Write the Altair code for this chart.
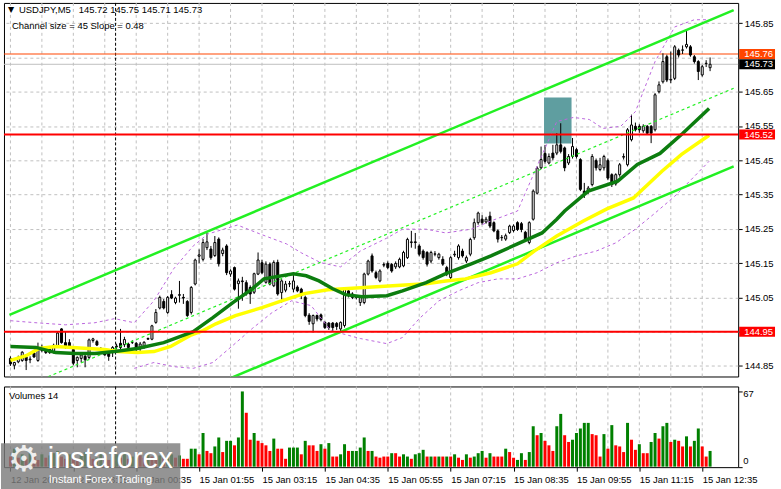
import altair as alt
import pandas as pd

FONT = "Liberation Sans"

# ---------------- data (USDJPY M5) ----------------
bar_index = list(range(-1, 178))  # bar -1 = 12 Jan 21:45 ... bar 177 = 15 Jan 12:45

opens = [
    144.872, 144.852, 144.862, 144.866, 144.876, 144.868, 144.888, 144.866, 144.895, 144.898,
    144.898, 144.890, 144.907, 144.958, 144.918, 144.918, 144.898, 144.866, 144.872, 144.878,
    144.875, 144.924, 144.921, 144.900, 144.890, 144.894, 144.892, 144.906, 144.916, 144.912,
    144.914, 144.919, 144.916, 144.900, 144.905, 144.928, 144.928, 144.977, 145.019, 145.038,
    145.006, 145.058, 145.035, 145.056, 145.050, 145.038, 145.006, 145.089, 145.170, 145.161,
    145.195, 145.191, 145.172, 145.220, 145.178, 145.200, 145.118, 145.137, 145.090, 145.098,
    145.093, 145.079, 145.065, 145.118, 145.151, 145.094, 145.147, 145.084, 145.152, 145.064,
    145.071, 145.089, 145.074, 145.080, 145.074, 145.050, 144.998, 144.973, 144.997, 144.999,
    144.977, 144.975, 144.975, 144.974, 144.958, 144.968, 145.069, 145.060, 145.050, 145.035,
    145.035, 145.118, 145.171, 145.122, 145.098, 145.144, 145.149, 145.146, 145.139, 145.139,
    145.142, 145.166, 145.210, 145.212, 145.200, 145.185, 145.181, 145.156, 145.176, 145.166,
    145.161, 145.137, 145.108, 145.174, 145.166, 145.185, 145.156, 145.176, 145.224, 145.268,
    145.278, 145.270, 145.287, 145.268, 145.244, 145.224, 145.220, 145.239, 145.245, 145.268,
    145.265, 145.240, 145.210, 145.278, 145.354, 145.428, 145.470, 145.442, 145.471, 145.471,
    145.495, 145.486, 145.442, 145.461, 145.481, 145.452, 145.360, 145.360, 145.379, 145.449,
    145.423, 145.428, 145.449, 145.408, 145.381, 145.408, 145.459, 145.437, 145.510, 145.549,
    145.549, 145.536, 145.549, 145.549, 145.539, 145.650, 145.679, 145.752, 145.684, 145.689,
    145.771, 145.771, 145.781, 145.781, 145.752, 145.738, 145.699, 145.732, 145.720,
]
highs = [
    144.878, 144.862, 144.880, 144.893, 144.880, 144.878, 144.892, 144.918, 144.912, 144.902,
    144.902, 144.915, 144.950, 144.960, 144.950, 144.928, 144.898, 144.878, 144.886, 144.882,
    144.930, 144.932, 144.926, 144.905, 144.893, 144.898, 144.908, 144.915, 144.958, 144.935,
    144.918, 144.925, 144.920, 144.920, 144.922, 144.933, 144.970, 145.016, 145.055, 145.045,
    145.054, 145.071, 145.052, 145.098, 145.060, 145.042, 145.083, 145.163, 145.190, 145.220,
    145.239, 145.200, 145.229, 145.225, 145.195, 145.205, 145.132, 145.140, 145.105, 145.110,
    145.100, 145.085, 145.122, 145.181, 145.160, 145.155, 145.152, 145.158, 145.160, 145.103,
    145.098, 145.098, 145.122, 145.085, 145.078, 145.055, 145.004, 145.000, 145.000, 145.003,
    144.980, 144.978, 144.978, 144.978, 144.980, 145.078, 145.075, 145.065, 145.056, 145.055,
    145.122, 145.160, 145.178, 145.128, 145.132, 145.152, 145.155, 145.150, 145.155, 145.166,
    145.186, 145.224, 145.244, 145.238, 145.205, 145.190, 145.185, 145.186, 145.185, 145.180,
    145.170, 145.142, 145.170, 145.186, 145.205, 145.192, 145.172, 145.224, 145.280, 145.300,
    145.290, 145.285, 145.300, 145.272, 145.248, 145.232, 145.236, 145.262, 145.263, 145.272,
    145.270, 145.244, 145.272, 145.365, 145.432, 145.490, 145.495, 145.470, 145.495, 145.529,
    145.558, 145.490, 145.468, 145.515, 145.486, 145.456, 145.384, 145.375, 145.468, 145.455,
    145.457, 145.466, 145.455, 145.412, 145.412, 145.442, 145.470, 145.544, 145.583, 145.560,
    145.555, 145.555, 145.553, 145.553, 145.646, 145.680, 145.762, 145.758, 145.767, 145.786,
    145.776, 145.785, 145.830, 145.786, 145.757, 145.742, 145.728, 145.742, 145.750,
]
lows = [
    144.850, 144.840, 144.858, 144.862, 144.838, 144.858, 144.874, 144.862, 144.890, 144.885,
    144.885, 144.886, 144.903, 144.915, 144.900, 144.905, 144.852, 144.846, 144.860, 144.846,
    144.870, 144.918, 144.908, 144.893, 144.880, 144.865, 144.876, 144.898, 144.890, 144.905,
    144.900, 144.914, 144.890, 144.888, 144.900, 144.926, 144.925, 144.973, 145.015, 145.015,
    145.002, 145.045, 145.030, 145.035, 145.031, 144.993, 145.000, 145.085, 145.150, 145.155,
    145.188, 145.160, 145.168, 145.140, 145.170, 145.115, 145.110, 145.070, 145.017, 145.040,
    145.055, 145.031, 145.060, 145.115, 145.118, 145.090, 145.085, 145.080, 145.055, 145.035,
    145.065, 145.080, 145.065, 145.065, 145.045, 144.992, 144.970, 144.948, 144.980, 144.980,
    144.958, 144.955, 144.952, 144.955, 144.948, 144.962, 145.050, 145.045, 145.044, 145.025,
    145.030, 145.114, 145.122, 145.103, 145.094, 145.138, 145.132, 145.122, 145.133, 145.135,
    145.138, 145.162, 145.195, 145.192, 145.170, 145.160, 145.140, 145.150, 145.170, 145.160,
    145.142, 145.112, 145.103, 145.168, 145.160, 145.166, 145.150, 145.170, 145.218, 145.262,
    145.262, 145.265, 145.252, 145.240, 145.210, 145.215, 145.215, 145.235, 145.240, 145.244,
    145.240, 145.214, 145.205, 145.274, 145.350, 145.424, 145.440, 145.438, 145.450, 145.465,
    145.470, 145.418, 145.436, 145.455, 145.455, 145.360, 145.340, 145.352, 145.374, 145.420,
    145.418, 145.420, 145.392, 145.372, 145.376, 145.402, 145.452, 145.432, 145.505, 145.534,
    145.530, 145.530, 145.524, 145.500, 145.534, 145.645, 145.674, 145.678, 145.675, 145.684,
    145.750, 145.760, 145.776, 145.752, 145.732, 145.684, 145.694, 145.722, 145.710,
]
closes = [
    144.856, 144.860, 144.875, 144.890, 144.866, 144.870, 144.876, 144.904, 144.905, 144.889,
    144.889, 144.910, 144.946, 144.918, 144.905, 144.908, 144.858, 144.875, 144.882, 144.868,
    144.926, 144.929, 144.911, 144.900, 144.882, 144.878, 144.904, 144.908, 144.904, 144.927,
    144.904, 144.919, 144.900, 144.914, 144.919, 144.930, 144.967, 145.006, 145.050, 145.019,
    145.050, 145.048, 145.048, 145.058, 145.048, 144.997, 145.079, 145.159, 145.174, 145.210,
    145.212, 145.166, 145.210, 145.148, 145.188, 145.122, 145.127, 145.074, 145.098, 145.096,
    145.060, 145.060, 145.119, 145.159, 145.122, 145.147, 145.089, 145.152, 145.060, 145.098,
    145.089, 145.090, 145.098, 145.069, 145.055, 144.997, 144.980, 144.997, 144.987, 144.985,
    144.962, 144.962, 144.962, 144.965, 144.977, 145.074, 145.055, 145.050, 145.050, 145.050,
    145.118, 145.156, 145.127, 145.108, 145.127, 145.146, 145.137, 145.127, 145.149, 145.161,
    145.181, 145.219, 145.212, 145.210, 145.176, 145.166, 145.147, 145.181, 145.177, 145.176,
    145.147, 145.118, 145.166, 145.176, 145.200, 145.171, 145.166, 145.219, 145.268, 145.296,
    145.268, 145.278, 145.258, 145.244, 145.220, 145.225, 145.230, 145.258, 145.258, 145.248,
    145.248, 145.220, 145.268, 145.360, 145.427, 145.452, 145.447, 145.461, 145.457, 145.495,
    145.476, 145.428, 145.461, 145.490, 145.461, 145.365, 145.350, 145.369, 145.461, 145.428,
    145.437, 145.461, 145.398, 145.379, 145.408, 145.437, 145.461, 145.539, 145.553, 145.539,
    145.539, 145.549, 145.529, 145.529, 145.641, 145.670, 145.738, 145.684, 145.686, 145.781,
    145.757, 145.772, 145.788, 145.757, 145.738, 145.709, 145.723, 145.733, 145.730,
]
volumes = [
    9, 16, 8, 11, 7, 12, 9, 6, 11, 8,
    10, 12, 14, 9, 7, 11, 8, 6, 10, 13,
    9, 7, 8, 12, 10, 6, 9, 11, 8, 13,
    7, 9, 12, 10, 8, 11, 9, 7, 10, 8,
    9, 11, 8, 10, 7, 7, 16, 16, 11, 30,
    14, 12, 18, 26, 13, 23, 23, 19, 26, 67,
    48, 24, 30, 23, 21, 19, 14, 25, 16, 16,
    7, 17, 17, 17, 11, 23, 19, 19, 14, 20,
    16, 21, 9, 9, 11, 20, 14, 14, 14, 17,
    26, 14, 14, 9, 8, 9, 9, 12, 12, 9,
    11, 9, 7, 11, 12, 15, 9, 9, 9, 9,
    9, 9, 9, 11, 8, 6, 11, 8, 9, 12,
    14, 8, 12, 9, 9, 9, 16, 13, 8, 6,
    12, 6, 13, 36, 28, 30, 23, 19, 14, 36,
    47, 28, 22, 24, 30, 34, 39, 39, 29, 28,
    9, 29, 16, 37, 19, 18, 13, 39, 24, 15,
    20, 12, 12, 22, 30, 25, 36, 39, 22, 24,
    23, 18, 27, 18, 23, 34, 18, 9, 14,
]
volume_colors = (
    "r g r g r g r r g r "
    "g g g r r g r r g g "
    "r r g g r r g g r g "
    "r g g r r g r r g r "
    "g g r g r r g g r g "
    "r r g g r g g r g g "
    "r r g r r r r g r r "
    "r g g g r g r r r g "
    "r g r r g g r g g g "
    "g r g r r r r g r r "
    "g g r g g g r g r g "
    "r g r g r r g r g g "
    "g r g r r r g r r g "
    "g r g g r g r r r g "
    "g r r g g g g g r r "
    "r g r g r r r g r r "
    "g r r g g r g g r g "
    "r r g r g g r r g"
).split()

price_ticks = [144.85, 144.95, 145.05, 145.15, 145.25, 145.35, 145.45, 145.55, 145.65, 145.75, 145.85]
hidden_price_label = "145.75"   # covered by the 145.76 / 145.73 price tags in the original
time_tick_bars = [-1, 15, 31, 47, 63, 79, 95, 111, 127, 143, 159, 175]
time_tick_labels = ["12 Jan 2024", "12 Jan 23:05", "15 Jan 00:35", "15 Jan 01:55", "15 Jan 03:15",
                    "15 Jan 04:35", "15 Jan 05:55", "15 Jan 07:15", "15 Jan 08:35", "15 Jan 09:55",
                    "15 Jan 11:15", "15 Jan 12:35"]
grid_bars = [-1, 7, 15, 23, 31, 39, 47, 55, 63, 71, 79, 87, 95, 103, 111, 119, 127, 135, 143, 151, 159, 167, 175]
day_separator_bar = [25.75]

ma_green_bars = [-1, 5.5, 10.5, 15.5, 20.5, 25.5, 31.25, 38, 45.5, 50.5, 55.5, 60.5, 63.5, 71, 74.25, 77.5,
                 81, 84.25, 88.5, 94.75, 98.75, 104.75, 109.75, 116.25, 121.25, 128, 134.25, 138, 140,
                 146, 153.5, 158.5, 164.25, 170, 176.75]
ma_green_vals = [144.907, 144.904, 144.889, 144.886, 144.886, 144.892, 144.901, 144.918, 144.950, 144.991,
                 145.034, 145.075, 145.104, 145.119, 145.113, 145.098, 145.075, 145.058, 145.052, 145.055,
                 145.069, 145.093, 145.119, 145.148, 145.171, 145.206, 145.238, 145.278, 145.302, 145.360,
                 145.389, 145.438, 145.470, 145.528, 145.601]
ma_yellow_bars = [-1, 3, 6.25, 10.5, 14.75, 18.75, 23, 26.25, 31.25, 35.5, 39.75, 44.75, 48, 51.25, 56.25,
                  63, 68, 73.75, 79.75, 88, 96.25, 104.75, 109.75, 114.75, 121.25, 128, 132.25, 138,
                  144.75, 150.75, 157.5, 164.75, 169.75, 176.75]
ma_yellow_vals = [144.866, 144.880, 144.901, 144.907, 144.904, 144.901, 144.898, 144.892, 144.889, 144.892,
                  144.907, 144.939, 144.953, 144.973, 144.997, 145.020, 145.040, 145.061, 145.072, 145.078,
                  145.084, 145.090, 145.098, 145.104, 145.122, 145.148, 145.185, 145.229, 145.273, 145.308,
                  145.340, 145.418, 145.467, 145.523]
band_upper_bars = [-1, 5.5, 13, 20.5, 25.5, 30.5, 35.5, 40.5, 45.5, 49.25, 56.75, 62.5, 69.25, 73, 78, 83,
                   88, 94.75, 98.75, 104.75, 109.75, 116.25, 121.25, 128, 133, 138, 142.25, 146.25, 149.75,
                   154.25, 158, 163, 168, 173, 176.75]
band_upper_vals = [144.982, 144.976, 144.970, 144.976, 144.988, 144.976, 145.040, 145.133, 145.200, 145.235,
                   145.261, 145.235, 145.206, 145.180, 145.151, 145.139, 145.185, 145.223, 145.249, 145.249,
                   145.238, 145.249, 145.273, 145.302, 145.433, 145.563, 145.575, 145.569, 145.543, 145.549,
                   145.592, 145.738, 145.839, 145.860, 145.860]
band_lower_bars = [30.5, 35.5, 40.5, 45.5, 50.5, 55.5, 60.5, 65.5, 70.5, 75.5, 80.5, 88, 94.75, 98.75, 103,
                   108, 113, 118, 123, 128, 133, 138, 143, 148, 153, 158, 163, 168, 173, 176.75]
band_lower_vals = [144.843, 144.860, 144.848, 144.843, 144.860, 144.909, 144.959, 145.005, 145.040, 145.026,
                   144.953, 144.930, 144.915, 144.933, 144.988, 145.040, 145.069, 145.093, 145.104, 145.104,
                   145.122, 145.151, 145.171, 145.185, 145.209, 145.249, 145.296, 145.345, 145.403, 145.447]

channel_bars = [-1.25, 183]
channel_upper = [144.999, 145.888]
channel_mid = [144.771, 145.660]
channel_lower = [144.543, 145.432]

red_levels = [145.525, 144.95]
thin_levels = [145.76, 145.73]
thin_level_colors = ["#ff4500", "#c0c0c0"]
tag_prices = [145.76, 145.73, 145.525, 144.95]
tag_texts = ["145.76", "145.73", "145.52", "144.95"]
tag_colors = ["#ff4500", "#000000", "#ff0000", "#ff0000"]
zone_bars = [134.75, 141.75]
zone_prices = [145.499, 145.633]

# ---------------- styling ----------------
GRID = "#c0c0c0"
LIME = "#22f022"
DGREEN = "#0c7d0f"
YELLOW = "#ffff00"
PURPLE = "#bb66dd"
TEAL = "#5f9ea0"

X_SCALE = alt.Scale(domain=[-1.375, 182.875], nice=False, zero=False)
P_SCALE = alt.Scale(domain=[144.8192, 145.9090], nice=False, zero=False)
V_SCALE = alt.Scale(domain=[-0.44, 71.44], nice=False, zero=False)

price_axis = alt.Axis(orient="right", values=price_ticks, format=".2f", grid=True, gridDash=[3, 3],
                      gridColor=GRID, tickSize=4, labelPadding=2, domain=False, title=None,
                      labelOverlap=False,
                      labelExpr=f"datum.label == '{hidden_price_label}' ? '' : datum.label")

labels_js = "[" + ",".join("'" + t + "'" for t in time_tick_labels) + "]"
vals_js = "[" + ",".join(str(v) for v in time_tick_bars) + "]"
time_axis = alt.Axis(values=time_tick_bars, labelExpr=f"{labels_js}[indexof({vals_js}, datum.value)]",
                     labelAlign="left", labelBaseline="top", labelPadding=3, tickSize=4, domain=False,
                     grid=False, title=None, labelFlush=False, labelOverlap=False, labelBound=False)
vol_axis = alt.Axis(orient="right", values=[0, 67], labels=False, tickSize=4, domain=False, grid=False,
                    title=None)


def X(field="i"):
    return alt.X(f"{field}:Q", scale=X_SCALE, axis=None)


def XV(field="i"):
    return alt.X(f"{field}:Q", scale=X_SCALE, axis=time_axis)


def P(field="p"):
    return alt.Y(f"{field}:Q", scale=P_SCALE, axis=price_axis)


candles = pd.DataFrame({"i": bar_index, "o": opens, "h": highs, "l": lows, "c": closes,
                        "v": volumes, "vc": volume_colors})
candles["dir"] = ["up" if c >= o else "down" for o, c in zip(opens, closes)]

one = pd.DataFrame({"a": [0]})

# ---------------- main panel ----------------
anchor = alt.Chart(one).mark_rect(opacity=0).encode(
    x=alt.value(-3), x2=alt.value(778), y=alt.value(-1), y2=alt.value(488))

grid_v = alt.Chart(pd.DataFrame({"i": grid_bars})).mark_rule(
    color=GRID, strokeDash=[3, 3], strokeWidth=1).encode(x=X())

sep = alt.Chart(pd.DataFrame({"i": day_separator_bar})).mark_rule(
    color="black", strokeDash=[3, 2], strokeWidth=1).encode(x=X())

zone = alt.Chart(pd.DataFrame({"i1": [zone_bars[0]], "i2": [zone_bars[1]],
                               "p1": [zone_prices[0]], "p2": [zone_prices[1]]})).mark_rect(
    color=TEAL).encode(x=X("i1"), x2="i2:Q", y=P("p1"), y2="p2:Q")

thin = alt.Chart(pd.DataFrame({"p": thin_levels, "col": thin_level_colors})).mark_rule(
    strokeWidth=1).encode(y=P(), color=alt.Color("col:N", scale=None))

bands_df = pd.concat([
    pd.DataFrame({"band": "upper", "i": band_upper_bars, "p": band_upper_vals}),
    pd.DataFrame({"band": "lower", "i": band_lower_bars, "p": band_lower_vals}),
])
bands = alt.Chart(bands_df).mark_line(color=PURPLE, strokeDash=[3, 3], strokeWidth=1, clip=True).encode(
    x=X(), y=P(), detail="band:N", order="i:Q")

chan_df = pd.concat([
    pd.DataFrame({"line": "upper", "i": channel_bars, "p": channel_upper}),
    pd.DataFrame({"line": "lower", "i": channel_bars, "p": channel_lower}),
])
chan = alt.Chart(chan_df).mark_line(color=LIME, strokeWidth=2.5, clip=True).encode(
    x=X(), y=P(), detail="line:N", order="i:Q")
chan_mid = alt.Chart(pd.DataFrame({"i": channel_bars, "p": channel_mid})).mark_line(
    color=LIME, strokeWidth=1.2, strokeDash=[3, 3], clip=True).encode(x=X(), y=P(), order="i:Q")

ma_y = alt.Chart(pd.DataFrame({"i": ma_yellow_bars, "p": ma_yellow_vals})).mark_line(
    color=YELLOW, strokeWidth=3.5, clip=True).encode(x=X(), y=P(), order="i:Q")
ma_g = alt.Chart(pd.DataFrame({"i": ma_green_bars, "p": ma_green_vals})).mark_line(
    color=DGREEN, strokeWidth=3.5, clip=True).encode(x=X(), y=P(), order="i:Q")

wicks = alt.Chart(candles).mark_rule(color="black", strokeWidth=1).encode(
    x=X(), y=P("l"), y2="h:Q")
bodies = alt.Chart(candles).mark_bar(size=2, stroke="black", strokeWidth=1).encode(
    x=X(), y=P("o"), y2="c:Q",
    fill=alt.Fill("dir:N", scale=alt.Scale(domain=["up", "down"], range=["white", "black"]), legend=None))

red = alt.Chart(pd.DataFrame({"p": red_levels})).mark_rule(color="#ff0000", strokeWidth=2).encode(y=P())

tags_df = pd.DataFrame({"p": tag_prices, "t": tag_texts, "bg": tag_colors})
tag_bg = alt.Chart(tags_df).mark_rule(strokeWidth=10).encode(
    y=P(), x=alt.value(738), x2=alt.value(774), color=alt.Color("bg:N", scale=None))
tag_txt = alt.Chart(tags_df).mark_text(align="left", baseline="middle", font=FONT, fontSize=9.5,
                                       color="white").encode(y=P(), x=alt.value(743), text="t:N")

hdr_tri = alt.Chart(one).mark_text(text="▼", font="DejaVu Sans", fontSize=8, align="left",
                                   baseline="middle", color="black").encode(x=alt.value(4), y=alt.value(7.5))
hdr1 = alt.Chart(one).mark_text(text="USDJPY,M5\u00a0\u00a0\u00a0145.72 145.75 145.71 145.73", font=FONT,
                                fontSize=9.5, align="left", baseline="middle", color="black").encode(
    x=alt.value(15), y=alt.value(7.5))
hdr2 = alt.Chart(one).mark_text(text="Channel size = 45 Slope = 0.48", font=FONT, fontSize=9.5,
                                align="left", baseline="middle", color="black").encode(
    x=alt.value(8), y=alt.value(23))

main = alt.layer(anchor, grid_v, sep, zone, thin, wicks, bodies, bands, chan, chan_mid, ma_y, ma_g, red,
                 tag_bg, tag_txt, hdr_tri, hdr1, hdr2).properties(width=737, height=375)

# ---------------- volume panel ----------------
v_grid = alt.Chart(pd.DataFrame({"i": grid_bars})).mark_rule(
    color=GRID, strokeDash=[3, 3], strokeWidth=1).encode(x=XV())
v_sep = alt.Chart(pd.DataFrame({"i": day_separator_bar})).mark_rule(
    color="black", strokeDash=[3, 2], strokeWidth=1).encode(x=XV())
v_bars = alt.Chart(candles).mark_bar(size=3).encode(
    x=XV(),
    y=alt.Y("v:Q", scale=V_SCALE, axis=vol_axis), y2=alt.datum(0),
    color=alt.Color("vc:N", scale=alt.Scale(domain=["g", "r"], range=["#008000", "#ff0000"]), legend=None))
v_title = alt.Chart(one).mark_text(text="Volumes 14", font=FONT, fontSize=9.5, align="left",
                                   baseline="middle", color="black").encode(x=alt.value(5), y=alt.value(10))
v_max = alt.Chart(one).mark_text(text="67", font=FONT, fontSize=9.5, align="left", baseline="middle",
                                 color="black").encode(x=alt.value(742), y=alt.value(8))
v_zero = alt.Chart(one).mark_text(text="0", font=FONT, fontSize=9.5, align="left", baseline="middle",
                                  color="black").encode(x=alt.value(742), y=alt.value(75))

wm_box = alt.Chart(one).mark_rect(color="#7c7c7c", opacity=0.82).encode(
    x=alt.value(-3), x2=alt.value(177), y=alt.value(57), y2=alt.value(103))
wm_gear = alt.Chart(one).mark_text(text="⚙", font="DejaVu Sans", fontSize=36, color="white", opacity=0.85,
                                   align="center", baseline="middle").encode(x=alt.value(20), y=alt.value(74))
wm_name = alt.Chart(one).mark_text(text="instaforex", font=FONT, fontSize=29, color="white", align="left",
                                   baseline="alphabetic").encode(x=alt.value(44), y=alt.value(82))
wm_sub = alt.Chart(one).mark_text(text="Instant Forex Trading", font=FONT, fontSize=11, color="white",
                                  align="left", baseline="alphabetic").encode(x=alt.value(45), y=alt.value(97))

vol = alt.layer(v_grid, v_sep, v_bars, v_title, v_max, v_zero, wm_box, wm_gear, wm_name, wm_sub).properties(
    width=737, height=81)

chart = alt.vconcat(main, vol, spacing=10).properties(
    padding=0, bounds="flush"
).resolve_scale(
    x="independent", y="independent", color="independent", fill="independent"
).configure_view(
    stroke="black", strokeWidth=1
).configure_axis(
    labelFont=FONT, labelFontSize=9.5, labelColor="black", tickColor="black"
)

chart.save("out.html", embed_options={"renderer": "svg", "actions": False})
